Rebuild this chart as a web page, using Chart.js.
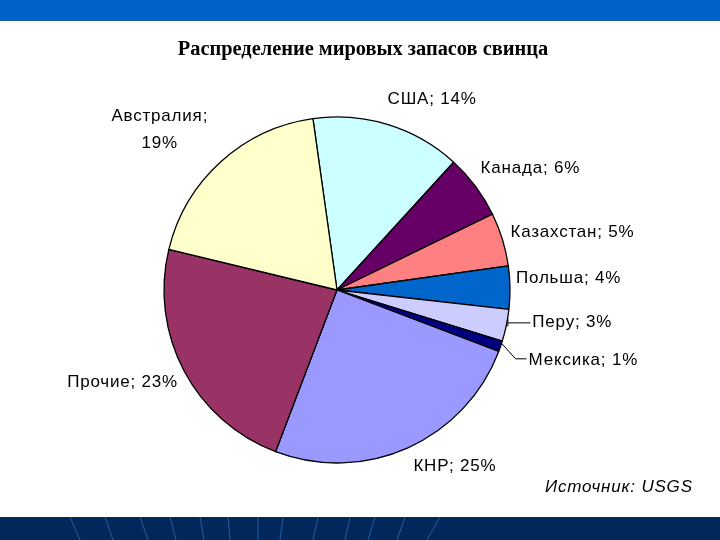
<!DOCTYPE html>
<html>
<head>
<meta charset="utf-8">
<script src="https://cdn.jsdelivr.net/npm/chart.js@4"></script>
<style>
  html, body { margin: 0; padding: 0; background: #fff; }
  #wrap { position: relative; width: 720px; height: 540px; overflow: hidden; }
  #topbar { position: absolute; left: 0; top: 0; width: 720px; height: 19px; background: #0063c9; border-bottom: 2px solid #245d98; }
  #bottombar { position: absolute; left: 0; top: 517px; width: 720px; height: 23px; }
  #title { position: absolute; left: 0; width: 726px; top: 37px; text-align: center;
           font: bold 20.4px "Liberation Serif", serif; color: #000; }
  #source { position: absolute; left: 545px; top: 477px; font: italic 17px "Liberation Sans", sans-serif;
            letter-spacing: 0.8px; color: #000; }
  canvas { position: absolute; left: 0; top: 0; }
</style>
</head>
<body>
<div id="wrap">
  <canvas id="leadChart" width="720" height="540"></canvas>
  <div id="topbar"></div>
  <svg id="bottombar" width="720" height="23">
    <rect width="720" height="23" fill="#00285a"/>
    <g stroke="#285f9c" stroke-width="1">
      <line x1="70" y1="0" x2="80" y2="23"/>
      <line x1="105" y1="0" x2="113" y2="23"/>
      <line x1="140" y1="0" x2="148" y2="23"/>
      <line x1="170" y1="0" x2="176" y2="23"/>
      <line x1="200" y1="0" x2="204" y2="23"/>
      <line x1="228" y1="0" x2="230" y2="23"/>
      <line x1="258" y1="0" x2="258" y2="23"/>
      <line x1="283" y1="0" x2="280" y2="23"/>
      <line x1="318" y1="0" x2="313" y2="23"/>
      <line x1="350" y1="0" x2="345" y2="23"/>
      <line x1="375" y1="0" x2="368" y2="23"/>
      <line x1="405" y1="0" x2="397" y2="23"/>
      <line x1="440" y1="0" x2="427" y2="23"/>
    </g>
  </svg>
  <div id="title">Распределение мировых запасов свинца</div>
  <div id="source">Источник: USGS</div>
</div>
<script>
const countries = ['США', 'Канада', 'Казахстан', 'Польша', 'Перу', 'Мексика', 'КНР', 'Прочие', 'Австралия'];
const shares = [14, 6, 5, 4, 3, 1, 25, 23, 19];
const sliceColors = ['#ccffff', '#660066', '#ff8080', '#0066cc', '#ccccff', '#000080', '#9999ff', '#993366', '#ffffcc'];

// label placement relative to the slice's rim point (mid angle)
const labelLayout = [
  { dx: 44, dy: -25, align: 'center' },
  { dx: 5, dy: -18, align: 'left' },
  { dx: 8, dy: -7, align: 'left' },
  { dx: 6, dy: -9, align: 'left' },
  { dx: 26, dy: -3, align: 'left', leader: 'bracket' },
  { dx: 28, dy: 14, align: 'left', leader: 'diag' },
  { dx: 47, dy: 19, align: 'center' },
  { dx: -6, dy: 12, align: 'right' },
  { dx: -61, dy: -33, align: 'center', split: true }
];

const pieLabels = {
  id: 'pieLabels',
  afterDatasetsDraw(chart) {
    const ctx = chart.ctx;
    const arcs = chart.getDatasetMeta(0).data;
    ctx.save();
    ctx.font = '17px "Liberation Sans", Arial, sans-serif';
    ctx.letterSpacing = '0.8px';
    ctx.fillStyle = '#000';
    ctx.strokeStyle = '#000';
    ctx.lineWidth = 1;
    ctx.textBaseline = 'middle';
    arcs.forEach((arc, i) => {
      const lay = labelLayout[i];
      const mid = (arc.startAngle + arc.endAngle) / 2;
      const rx = arc.x + Math.cos(mid) * arc.outerRadius;
      const ry = arc.y + Math.sin(mid) * arc.outerRadius;
      const tx = rx + lay.dx;
      const ty = ry + lay.dy;
      ctx.textAlign = lay.align;
      if (lay.leader === 'bracket') {
        ctx.beginPath();
        ctx.moveTo(rx + 1.5, ty - 4);
        ctx.lineTo(rx + 1.5, ty + 4);
        ctx.moveTo(rx + 1.5, ty + 0.5);
        ctx.lineTo(tx - 2, ty + 0.5);
        ctx.stroke();
      } else if (lay.leader === 'diag') {
        ctx.beginPath();
        ctx.moveTo(rx + 1, ry - 3);
        ctx.lineTo(rx + 15, ty - 1.5);
        ctx.lineTo(tx - 2, ty - 1.5);
        ctx.stroke();
      }
      if (lay.split) {
        ctx.fillText(countries[i] + ';', tx, ty - 13);
        ctx.fillText(shares[i] + '%', tx, ty + 14);
      } else {
        ctx.fillText(countries[i] + '; ' + shares[i] + '%', tx, ty);
      }
    });
    ctx.restore();
  }
};

document.addEventListener('DOMContentLoaded', () => {
  const leadChart = new Chart(document.getElementById('leadChart'), {
    type: 'pie',
    data: {
      labels: countries,
      datasets: [{
        data: shares,
        backgroundColor: sliceColors,
        borderColor: '#000',
        borderWidth: 1.3,
        radius: 173
      }]
    },
    options: {
      responsive: false,
      devicePixelRatio: 1,
      animation: false,
      rotation: -8,
      layout: { padding: { left: 0, right: 46, top: 40, bottom: 0 } },
      plugins: {
        legend: { display: false },
        title: { display: false },
        tooltip: { enabled: false }
      }
    },
    plugins: [pieLabels]
  });
});
</script>
</body>
</html>
